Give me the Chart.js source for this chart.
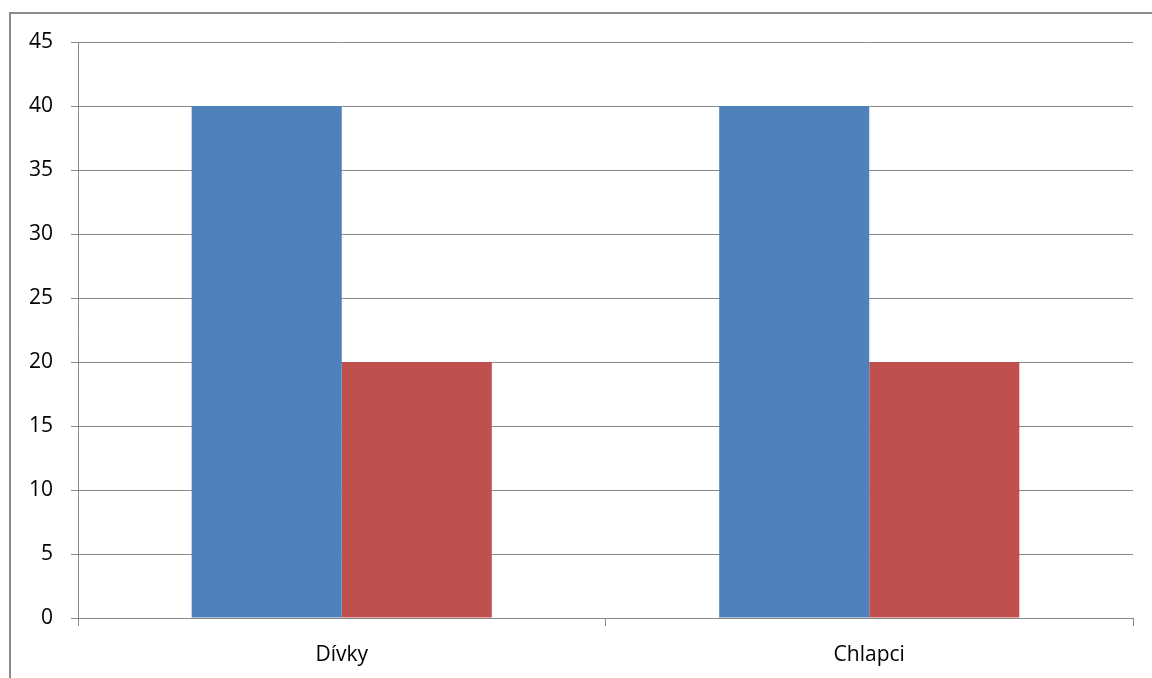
<!DOCTYPE html>
<html>
<head>
<meta charset="utf-8">
<script src="https://cdn.jsdelivr.net/npm/chart.js@4"></script>
<style>
  html, body { margin: 0; padding: 0; background: #fff; overflow: hidden; }
  #frame { position: absolute; left: 9px; top: 12px; width: 1200px; height: 700px; border-left: 2px solid #8a8a8a; border-top: 2px solid #8a8a8a; }
  #wrap { position: absolute; left: 0; top: 0; width: 1152px; height: 678px; }
</style>
</head>
<body>
<div id="frame"></div>
<div id="wrap"><canvas id="barChart" width="1152" height="678"></canvas></div>
<script>
var categories = ['Dívky', 'Chlapci'];
var series1 = [40, 40];
var series2 = [20, 20];
var yTicks = [0, 5, 10, 15, 20, 25, 30, 35, 40, 45];

var gridColor = '#898989';
var labelFont = { family: 'Open Sans', size: 21 };

var ctx = document.getElementById('barChart');
var myBarChart = new Chart(ctx, {
  type: 'bar',
  data: {
    labels: categories,
    datasets: [{
      label: 'Řada 1',
      data: series1,
      backgroundColor: '#4F81BD',
      borderWidth: 0
    }, {
      label: 'Řada 2',
      data: series2,
      backgroundColor: '#C0504D',
      borderWidth: 0
    }]
  },
  options: {
    responsive: false,
    animation: false,
    layout: { padding: { top: 42, right: 19, bottom: 0, left: 0 } },
    plugins: { legend: { display: false }, tooltip: { enabled: false } },
    datasets: { bar: { barPercentage: 1, categoryPercentage: 0.569 } },
    scales: {
      x: {
        grid: { display: true, drawOnChartArea: false, color: gridColor, tickLength: 8, offset: true },
        border: { display: true, color: gridColor, width: 1 },
        ticks: { color: '#000', padding: 16, font: labelFont },
        afterFit: function(scale) { scale.height = 60; }
      },
      y: {
        min: 0,
        max: 45,
        afterBuildTicks: function(scale) { scale.ticks = yTicks.map(function(v) { return { value: v }; }); },
        grid: { color: gridColor, tickLength: 7 },
        border: { display: true, color: gridColor, width: 1 },
        ticks: { color: '#000', padding: 18, font: labelFont },
        afterFit: function(scale) { scale.width = 78; }
      }
    }
  }
});
</script>
</body>
</html>
